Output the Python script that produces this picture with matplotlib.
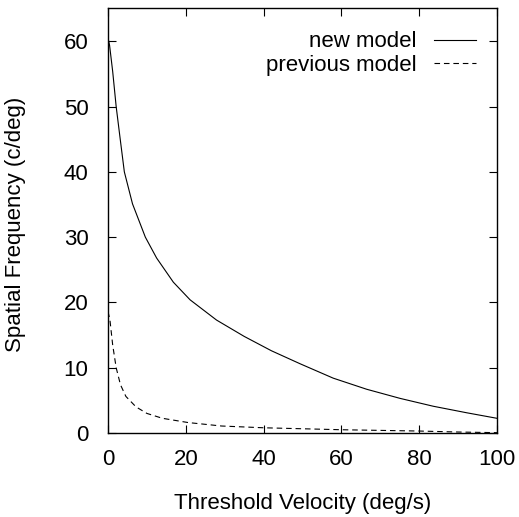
import numpy as np
import matplotlib
matplotlib.use("Agg")
import matplotlib.pyplot as plt

plt.rcParams['font.family'] = ['Liberation Sans', 'DejaVu Sans']

# values
vel_new = [0, 0.4, 1.2, 2.1, 3.1, 4.2, 6.3, 9.6, 12.5, 16.8, 21.1, 27.9,
           35, 42, 49.4, 57.9, 66.5, 75.1, 83.6, 92.2, 100]
sf_new = [60.5, 59.4, 55.4, 50.0, 45.2, 40.0, 35.1, 30.0, 26.8, 23.1, 20.4,
          17.3, 14.8, 12.6, 10.6, 8.4, 6.7, 5.3, 4.1, 3.1, 2.25]

vel_prev = [0, 0.5, 1.2, 2.1, 3.2, 4.6, 7.2, 10, 14, 20.6, 29.2, 40, 50,
            60, 70, 80, 90, 100]
sf_prev = [18.6, 17.3, 13.5, 10.0, 7.4, 5.6, 4.0, 3.0, 2.25, 1.6, 1.07,
           0.8, 0.65, 0.5, 0.4, 0.3, 0.15, 0.05]

xticks = [0, 20, 40, 60, 80, 100]
yticks = [0, 10, 20, 30, 40, 50, 60]

fs = 16

fig = plt.figure(figsize=(5.19, 5.17), dpi=100)
ax = fig.add_axes([108 / 519, 1 - 433 / 517, 389 / 519, 425 / 517])

ax.plot(vel_new, sf_new, color='black', lw=0.8, label="new model")
ax.plot(vel_prev, sf_prev, color='black', lw=0.8, dashes=(5, 3.5),
        label="previous model")

ax.set_xlim(0, 100)
ax.set_ylim(0, 65.1)
ax.set_xticks(xticks)
ax.set_yticks(yticks)
ax.tick_params(direction='in', length=5.8, width=0.8, top=True, right=True,
               labelsize=fs)
ax.tick_params(axis='x', pad=11.5)
ax.tick_params(axis='y', pad=14)
for s in ax.spines.values():
    s.set_linewidth(1.0)

ax.set_xlabel("Threshold Velocity (deg/s)", fontsize=fs)
ax.set_ylabel("Spatial Frequency (c/deg)", fontsize=fs)
ax.xaxis.set_label_coords(0.5, -0.14)
ax.yaxis.set_label_coords(-0.21, 0.49)

ax.legend(loc='upper right', bbox_to_anchor=(0.945, 0.945), frameon=False,
          markerfirst=False, fontsize=fs, handlelength=1.85,
          handletextpad=0.8, labelspacing=0.12, borderpad=0,
          borderaxespad=0)

fig.savefig("out.png", dpi=100)
